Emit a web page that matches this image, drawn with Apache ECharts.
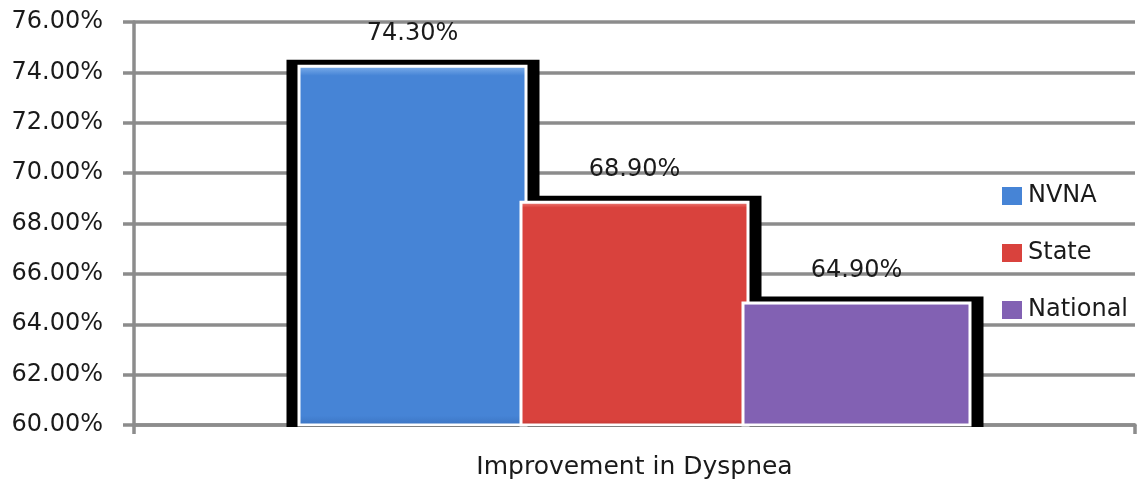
<!DOCTYPE html>
<html>
<head>
<meta charset="utf-8">
<script src="https://cdn.jsdelivr.net/npm/echarts@6/dist/echarts.min.js"></script>
<style>
html,body{margin:0;padding:0;background:#fff;}
#chart{width:1140px;height:481px;}
</style>
</head>
<body>
<div id="chart"></div>
<script>
const categories = ['Improvement in Dyspnea'];
const seriesNames = ['NVNA', 'State', 'National'];
const nvnaValues = [74.3];
const stateValues = [68.9];
const nationalValues = [64.9];
const yTicks = { min: 60, max: 76, interval: 2 };

const valuesBySeries = [nvnaValues, stateValues, nationalValues];
const colors = [
  { light: '#86b6ee', main: '#4684d6', dark: '#3a72c0' },
  { light: '#f3918b', main: '#d9423d', dark: '#b93531' },
  { light: '#bb9ee6', main: '#8261b3', dark: '#6d4f9c' }
];

const BAR_W = 230;
const PITCH = 222;
const GRID = { left: 134, right: 5, top: 22, bottom: 56 };

function grad(c) {
  return new echarts.graphic.LinearGradient(0, 0, 0, 1, [
    { offset: 0, color: c.light },
    { offset: 0.03, color: c.main },
    { offset: 0.97, color: c.main },
    { offset: 1, color: c.dark }
  ]);
}

const chart = echarts.init(document.getElementById('chart'), null, { renderer: 'canvas' });

const frameData = [];
valuesBySeries.forEach((arr, si) => arr.forEach((v, ci) => frameData.push([ci, v, si])));

const barSeries = seriesNames.map((name, i) => ({
  name: name,
  type: 'bar',
  z: 3,
  barWidth: BAR_W,
  barGap: (-(BAR_W - PITCH) / BAR_W * 100).toFixed(2) + '%',
  data: valuesBySeries[i],
  itemStyle: { color: grad(colors[i]), borderColor: '#ffffff', borderWidth: 3 },
  label: {
    show: true,
    position: 'top',
    distance: 19,
    formatter: p => p.value.toFixed(2) + '%',
    color: '#1a1a1a',
    fontFamily: 'DejaVu Sans',
    fontSize: 24
  }
}));

const frameSeries = {
  type: 'custom',
  z: 1,
  silent: true,
  legendHoverLink: false,
  data: frameData,
  renderItem: function (params, api) {
    const ci = api.value(0);
    const v = api.value(1);
    const si = api.value(2);
    const top = api.coord([ci, v]);
    const base = api.coord([ci, yTicks.min]);
    const cx = top[0] + (si - 1) * PITCH;
    const left = cx - BAR_W / 2 - 11;
    const right = cx + BAR_W / 2 + 12;
    const y0 = top[1] - 5;
    return {
      type: 'rect',
      shape: { x: left, y: y0, width: right - left, height: base[1] + 2 - y0 },
      style: { fill: '#000000' }
    };
  }
};

chart.setOption({
  animation: false,
  backgroundColor: '#ffffff',
  grid: GRID,
  legend: {
    orient: 'vertical',
    left: 995,
    top: 179,
    itemWidth: 22,
    itemHeight: 20,
    itemGap: 33,
    icon: 'rect',
    data: seriesNames,
    textStyle: { fontFamily: 'DejaVu Sans', fontSize: 24, color: '#1a1a1a' }
  },
  xAxis: {
    type: 'category',
    data: categories,
    axisLine: { show: true, lineStyle: { color: '#8c8c8c', width: 3.5 } },
    axisTick: { show: true, length: 9, lineStyle: { color: '#8c8c8c', width: 3.5 } },
    axisLabel: { margin: 30, fontFamily: 'DejaVu Sans', fontSize: 25, color: '#1a1a1a' },
    splitLine: { show: false }
  },
  yAxis: {
    type: 'value',
    min: yTicks.min,
    max: yTicks.max,
    interval: yTicks.interval,
    axisLine: { show: true, lineStyle: { color: '#8c8c8c', width: 3.5 } },
    axisTick: { show: true, length: 11, lineStyle: { color: '#8c8c8c', width: 3.5 } },
    axisLabel: {
      margin: 31,
      formatter: v => v.toFixed(2) + '%',
      fontFamily: 'DejaVu Sans',
      fontSize: 24,
      color: '#1a1a1a'
    },
    splitLine: { show: true, lineStyle: { color: '#8c8c8c', width: 3.5 } }
  },
  series: [frameSeries].concat(barSeries)
});
</script>
</body>
</html>
